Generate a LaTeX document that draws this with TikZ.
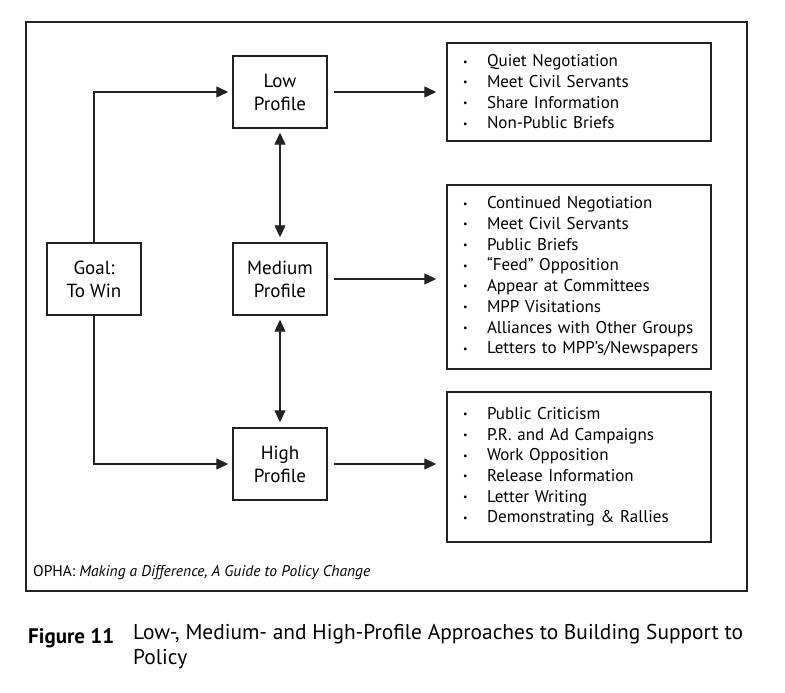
\documentclass[tikz,border=0pt]{standalone}
\usepackage{fontspec}
\setmainfont{PT Sans}
\usetikzlibrary{positioning,arrows.meta}
\definecolor{ink}{HTML}{222222}

% one list line: small bullet, then the text (kept on one line)
\newcommand{\bul}[1]{\mbox{\makebox[24pt][l]{\raisebox{0.2ex}{\fontsize{10}{10}\selectfont\textbullet}}#1}}

\begin{document}
\begin{tikzpicture}[x=1pt, y=1pt,
  block/.style={draw=ink, line width=1.4pt, minimum width=94pt, minimum height=72pt, align=center, font=\fontsize{19}{23}\selectfont},
  listbox/.style={draw=ink, line width=1.4pt, text width=232pt, inner xsep=16pt, align=left, font=\fontsize{17}{20.7}\selectfont},
  arr/.style={-{Triangle[length=12pt,width=11pt]}, line width=1.3pt, color=ink},
  dblarr/.style={{Triangle[length=12pt,width=11pt]}-{Triangle[length=12pt,width=11pt]}, line width=1.3pt, color=ink}
]
  \useasboundingbox (0,0) rectangle (785,693);

  % Outer frame
  \draw[line width=1.4pt, ink] (26,671) rectangle (747,102);

  % Goal and the three profiles
  \node[block] (goal) at (94,414) {Goal:\\To Win};
  \node[block] (low) at (280,601) {Low\\Profile};
  \node[block] (med) at (280,414) {Medium\\Profile};
  \node[block] (high) at (280,229) {High\\Profile};

  % Lists of actions
  \node[listbox, minimum height=98pt] (lowlist) at (579,601) {%
    \bul{Quiet Negotiation}\\
    \bul{Meet Civil Servants}\\
    \bul{Share Information}\\
    \bul{Non-Public Briefs}};
  \node[listbox, minimum height=184pt] (medlist) at (579,416) {%
    \bul{Continued Negotiation}\\
    \bul{Meet Civil Servants}\\
    \bul{Public Briefs}\\
    \bul{“Feed” Opposition}\\
    \bul{Appear at Committees}\\
    \bul{MPP Visitations}\\
    \bul{Alliances with Other Groups}\\
    \bul{Letters to MPP’s/Newspapers}};
  \node[listbox, minimum height=150pt] (highlist) at (579,226) {%
    \bul{Public Criticism}\\
    \bul{P.R. and Ad Campaigns}\\
    \bul{Work Opposition}\\
    \bul{Release Information}\\
    \bul{Letter Writing}\\
    \bul{Demonstrating \& Rallies}};

  % Arrows
  \draw[arr, shorten >=4pt] (goal) |- (low);
  \draw[arr, shorten >=4pt] (goal) |- (high);
  \draw[dblarr, shorten <=4pt, shorten >=5pt] (low) -- (med);
  \draw[dblarr, shorten <=4pt, shorten >=5pt] (med) -- (high);
  \draw[arr, shorten <=6pt, shorten >=10pt] (low) -- (lowlist.west |- low);
  \draw[arr, shorten <=6pt, shorten >=10pt] (med) -- (medlist.west |- med);
  \draw[arr, shorten <=6pt, shorten >=10pt] (high) -- (highlist.west |- high);

  % Source note
  \node[anchor=west, inner sep=0pt, font=\fontsize{15.5}{18}\selectfont] (src) at (33,120)
    {OPHA: \textit{Making a Difference, A Guide to Policy Change}};

  % Caption
  \node[anchor=base west, inner sep=0pt, font=\fontsize{21}{25}\selectfont\bfseries] (figno) at (28,49) {Figure 11};
  \node[anchor=north west, inner sep=0pt, align=left, font=\fontsize{21.4}{25}\selectfont] (capt) at (133,69)
    {Low-{}, Medium- and High-Profile Approaches to Building Support to\\Policy};
\end{tikzpicture}
\end{document}
